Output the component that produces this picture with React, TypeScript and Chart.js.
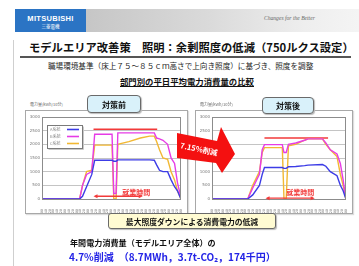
import React, { useEffect, useRef } from "react";
import { Chart, registerables } from "chart.js";
Chart.register(...registerables);

// ---------- data ----------
const seriesNames = ["A系統", "B系統", "C系統"];
const seriesColors = ["#3c3ce6", "#e63ce6", "#f2b833"];
const maxColor = "#f23a3a";

// 対策前 (hours of day)
const beforeTimes = [0, 6.5, 7.0, 7.7, 8.6, 9.1, 12.1, 12.4, 12.8, 13.1, 15.0, 17.0, 18.6, 19.4, 19.8, 20.3, 20.9, 21.7, 22.3, 22.9, 23.4, 24];
const beforeBlue = [0, 0, 100, 450, 900, 1420, 1420, 1380, 1380, 1430, 1430, 1430, 1430, 1420, 1250, 1050, 1000, 1000, 700, 450, 300, 0];
const beforeMagenta = [0, 0, 500, 900, 1000, 2370, 2370, 200, 200, 2420, 2420, 2420, 2420, 2420, 2230, 2200, 2150, 2000, 1500, 1300, 600, 50];
const beforeOrange = [0, 0, 500, 1000, 1050, 1970, 1970, 0, 0, 2000, 2100, 2230, 2300, 2300, 2100, 1800, 1500, 1450, 1000, 700, 300, 0];
const beforeMaxSpan = [8.9, 19.9];
const beforeMaxValue = 2550;
const beforeWork = [8.9, 17.4];

// 対策後
const afterTimes = [0, 6.4, 7.3, 8.5, 9.0, 9.4, 12.6, 12.9, 13.3, 13.7, 15.0, 16.6, 17.2, 19.8, 20.4, 21.2, 22.4, 23.0, 23.5, 24];
const afterBlue = [0, 0, 150, 500, 900, 1150, 1150, 1120, 1120, 1180, 1190, 1220, 1240, 1260, 1200, 1000, 850, 500, 300, 0];
const afterMagenta = [0, 0, 400, 900, 1800, 1990, 1990, 1700, 1700, 2000, 2050, 2150, 2200, 2200, 2050, 1800, 1650, 1300, 700, 0];
const afterOrange = [0, 0, 500, 1000, 1700, 1880, 1880, 0, 0, 1950, 2000, 2150, 2200, 2200, 2000, 1800, 1550, 900, 500, 0];
const afterMaxSpan = [9.4, 20.8];
const afterMaxValue = 2230;
const afterWork = [9.6, 18.4];

const yMin = 0;
const yMax = 3000;
const yStep = 500;
const workLabel = "就業時間";

const JP = '"Noto Sans CJK JP", "Noto Sans", sans-serif';

const decorPlugin = {
  id: "decor",
  afterDatasetsDraw(chart: any, _args: any, opts: any) {
    const { ctx, chartArea: a, scales } = chart;
    const x = scales.x, y = scales.y;
    ctx.save();
    // plot frame
    ctx.strokeStyle = "#8c8c8c";
    ctx.lineWidth = 1;
    ctx.strokeRect(Math.round(a.left) + 0.5, Math.round(a.top) + 0.5, Math.round(a.right - a.left) - 1, Math.round(a.bottom - a.top));
    // work-hours arrow
    const ws = opts.work;
    if (ws) {
      const yy = y.getPixelForValue(opts.arrowLevel);
      const x1 = x.getPixelForValue(ws[0]);
      const x2 = x.getPixelForValue(ws[1]);
      ctx.strokeStyle = maxColor;
      ctx.fillStyle = maxColor;
      ctx.lineWidth = 1.3;
      ctx.beginPath();
      ctx.moveTo(x1 + 2, yy);
      ctx.lineTo(x2 - 2, yy);
      ctx.stroke();
      ctx.beginPath();
      ctx.moveTo(x1, yy); ctx.lineTo(x1 + 4, yy - 2); ctx.lineTo(x1 + 4, yy + 2); ctx.closePath();
      ctx.fill();
      ctx.beginPath();
      ctx.moveTo(x2, yy); ctx.lineTo(x2 - 4, yy - 2); ctx.lineTo(x2 - 4, yy + 2); ctx.closePath();
      ctx.fill();
      ctx.font = `bold 7px ${JP}`;
      ctx.textAlign = "center";
      ctx.textBaseline = "middle";
      ctx.fillText(workLabel, x.getPixelForValue(opts.labelAt[0]), y.getPixelForValue(opts.labelAt[1]));
    }
    // legend
    if (opts.legend) {
      const lx = a.left + 5, ly = a.top + 8, lw = 35, lh = 23;
      ctx.fillStyle = "#ffffff";
      ctx.fillRect(lx, ly, lw, lh);
      ctx.strokeStyle = "#7a7a7a";
      ctx.lineWidth = 1;
      ctx.strokeRect(lx + 0.5, ly + 0.5, lw, lh);
      ctx.strokeStyle = "#c8c8c8";
      ctx.beginPath();
      ctx.moveTo(lx + 1.5, ly + lh + 1.5); ctx.lineTo(lx + lw + 1.5, ly + lh + 1.5); ctx.lineTo(lx + lw + 1.5, ly + 1.5);
      ctx.stroke();
      chart.data.datasets.slice(0, 3).forEach((ds: any, i: number) => {
        const ry = ly + 4.5 + i * 7;
        ctx.fillStyle = "#8a8a8a";
        ctx.font = `4px ${JP}`;
        ctx.textAlign = "left";
        ctx.textBaseline = "middle";
        ctx.fillText(ds.label, lx + 3, ry);
        ctx.strokeStyle = ds.borderColor;
        ctx.lineWidth = 1.6;
        ctx.beginPath();
        ctx.moveTo(lx + 20, ry); ctx.lineTo(lx + 32, ry);
        ctx.stroke();
      });
    }
    ctx.restore();
  },
};

function fmtTime(v: number) {
  const m = Math.round(v * 60);
  const h = Math.floor(m / 60);
  const mm = m % 60;
  return `${h}:${mm < 10 ? "0" : ""}${mm}`;
}

function makeConfig(times: number[], series: number[][], maxSpan: number[], maxValue: number, decor: any) {
  const datasets: any[] = series.map((vals, i) => ({
    label: seriesNames[i],
    data: times.map((t, k) => ({ x: t, y: vals[k] })),
    borderColor: seriesColors[i],
    borderWidth: 1.4,
    pointRadius: 0,
    tension: 0,
  }));
  datasets.push({
    label: "最大",
    data: maxSpan.map((t) => ({ x: t, y: maxValue })),
    borderColor: maxColor,
    borderWidth: 1.5,
    pointRadius: 0,
  });
  return {
    type: "line",
    data: { datasets },
    plugins: [decorPlugin],
    options: {
      animation: false,
      responsive: false,
      maintainAspectRatio: false,
      layout: { padding: { top: 6, right: 4, left: 0, bottom: 0 } },
      plugins: { legend: { display: false }, tooltip: { enabled: false }, decor },
      scales: {
        x: {
          type: "linear",
          min: 0,
          max: 24,
          grid: { display: false },
          border: { display: false },
          afterFit: (s: any) => { s.height = 14; },
          ticks: {
            stepSize: 2 / 3,
            autoSkip: false,
            minRotation: 90,
            maxRotation: 90,
            padding: 2,
            color: "#777",
            font: { size: 3.4, family: "DejaVu Sans" },
            callback: (v: any) => fmtTime(Number(v)),
          },
        },
        y: {
          min: yMin,
          max: yMax,
          afterFit: (s: any) => { s.width = 16; },
          grid: { color: "#c4c4c4", lineWidth: 1, drawTicks: false },
          border: { display: false },
          ticks: {
            stepSize: yStep,
            padding: 2,
            color: "#777",
            font: { size: 4, family: "DejaVu Sans" },
            callback: (v: any) => String(v),
          },
        },
      },
    },
  };
}

function MiniChart({ cfg, style }: { cfg: any; style: React.CSSProperties }) {
  const ref = useRef<HTMLCanvasElement>(null);
  useEffect(() => {
    const c = new Chart(ref.current as HTMLCanvasElement, cfg);
    return () => c.destroy();
  }, []);
  return (
    <canvas
      ref={ref}
      width={style.width as number}
      height={style.height as number}
      style={{ position: "absolute", ...style }}
    />
  );
}

const abs = (s: React.CSSProperties): React.CSSProperties => ({ position: "absolute", ...s });

export default function App() {
  const leftCfg = makeConfig(beforeTimes, [beforeBlue, beforeMagenta, beforeOrange], beforeMaxSpan, beforeMaxValue, {
    legend: true,
    work: beforeWork,
    arrowLevel: 100,
    labelAt: [16.3, 250],
  });
  const rightCfg = makeConfig(afterTimes, [afterBlue, afterMagenta, afterOrange], afterMaxSpan, afterMaxValue, {
    legend: false,
    work: afterWork,
    arrowLevel: 30,
    labelAt: [15.8, 250],
  });
  const badge: React.CSSProperties = {
    position: "absolute",
    background: "#d9f1fa",
    border: "1px solid #6a6a6a",
    borderRadius: 4,
    boxShadow: "1px 1px 1px #bbb",
    font: `bold 8px ${JP}`,
    display: "flex",
    alignItems: "center",
    justifyContent: "center",
    color: "#111",
  };
  return (
    <div style={{ position: "fixed", left: 0, top: 0, width: 359, height: 266, overflow: "hidden", background: "#fff", fontFamily: JP }}>
      {/* header */}
      <div style={abs({ left: 15, top: 9, width: 71, height: 23, background: "#2b74c4" })}>
        <div style={abs({ left: 0, top: 5, width: 71, textAlign: "center", color: "#fff", font: "bold 7.5px 'Liberation Sans', Arial", letterSpacing: 0.3 })}>MITSUBISHI</div>
        <div style={abs({ left: 0, top: 14, width: 71, textAlign: "center", color: "#fff", font: `4.5px ${JP}` })}>三菱電機</div>
      </div>
      <div style={abs({ left: 86, top: 9, width: 273, height: 23, background: "linear-gradient(90deg, #c6c6c6, #dadada 45%, #eeeeee 80%, #f4f4f4)" })} />
      <div style={abs({ left: 264, top: 15, width: 90, color: "#666", font: "italic 5.6px 'Liberation Serif', serif", whiteSpace: "nowrap" })}>Changes for the Better</div>
      <div style={abs({ left: 13, top: 40, width: 1, height: 226, background: "#cfcfcf" })} />
      {/* title */}
      <div style={abs({ left: 29, top: 40, whiteSpace: "nowrap", font: `bold 11.3px ${JP}`, color: "#111", lineHeight: "14px" })}>
        モデルエリア改善策　照明：余剰照度の低減（750ルクス設定）
      </div>
      <div style={abs({ left: 20, top: 56, width: 331, height: 1.5, background: "#555" })} />
      <div style={abs({ left: 48, top: 61, whiteSpace: "nowrap", font: `7.6px ${JP}`, color: "#222", lineHeight: "9px" })}>
        職場環境基準（床上７５～８５ｃｍ高さで上向き照度）に基づき、照度を調整
      </div>
      <div style={abs({ left: 120, top: 76, whiteSpace: "nowrap", font: `bold 8.4px ${JP}`, color: "#111", lineHeight: "11px", textDecoration: "underline" })}>
        部門別の平日平均電力消費量の比較
      </div>
      {/* chart boxes */}
      <div style={abs({ left: 25, top: 110, width: 161, height: 102, border: "1px solid #a8a8a8", boxShadow: "1px 1px 1px #ddd" })} />
      <div style={abs({ left: 195, top: 110, width: 156, height: 102, border: "1px solid #a8a8a8", boxShadow: "1px 1px 1px #ddd" })} />
      <MiniChart cfg={leftCfg} style={{ left: 26, top: 111, width: 161, height: 102 }} />
      <MiniChart cfg={rightCfg} style={{ left: 196, top: 111, width: 156, height: 102 }} />
      <div style={abs({ left: 30, top: 101, whiteSpace: "nowrap", font: `4px ${JP}`, color: "#666" })}>電力量(kWh/10分)</div>
      <div style={abs({ left: 200, top: 101, whiteSpace: "nowrap", font: `4px ${JP}`, color: "#666" })}>電力量(kWh/10分)</div>
      <div style={{ ...badge, left: 87, top: 95, width: 52, height: 16 }}>対策前</div>
      <div style={{ ...badge, left: 262, top: 97, width: 50, height: 15 }}>対策後</div>
      {/* big arrow */}
      <svg width={359} height={266} style={abs({ left: 0, top: 0 })}>
        <polygon points="177,133 217,141 221,127 235,154 222,173 216,163 177,158" fill="#f41010" />
        <text x={199} y={152} fill="#fff" fontSize={7.5} fontWeight="bold" fontFamily={JP} textAnchor="middle" transform="rotate(12 199 149)">7.15%削減</text>
      </svg>
      {/* bottom */}
      <div style={abs({ left: 108, top: 213, width: 166, height: 14, background: "#fffbd2", border: "1px solid #6a6a6a", borderRadius: 3, boxShadow: "1px 1px 1px #bbb", display: "flex", alignItems: "center", justifyContent: "center", font: `bold 7.8px ${JP}`, color: "#111", whiteSpace: "nowrap" })}>
        最大照度ダウンによる消費電力の低減
      </div>
      <div style={abs({ left: 70, top: 238, whiteSpace: "nowrap", font: `bold 8.1px ${JP}`, color: "#111", lineHeight: "10px" })}>
        年間電力消費量（モデルエリア全体）の
      </div>
      <div style={abs({ left: 69, top: 250, whiteSpace: "nowrap", font: `bold 10px ${JP}`, color: "#2323e6", lineHeight: "13px" })}>
        4.7%削減　（8.7MWh，3.7t-CO₂，174千円）
      </div>
    </div>
  );
}
